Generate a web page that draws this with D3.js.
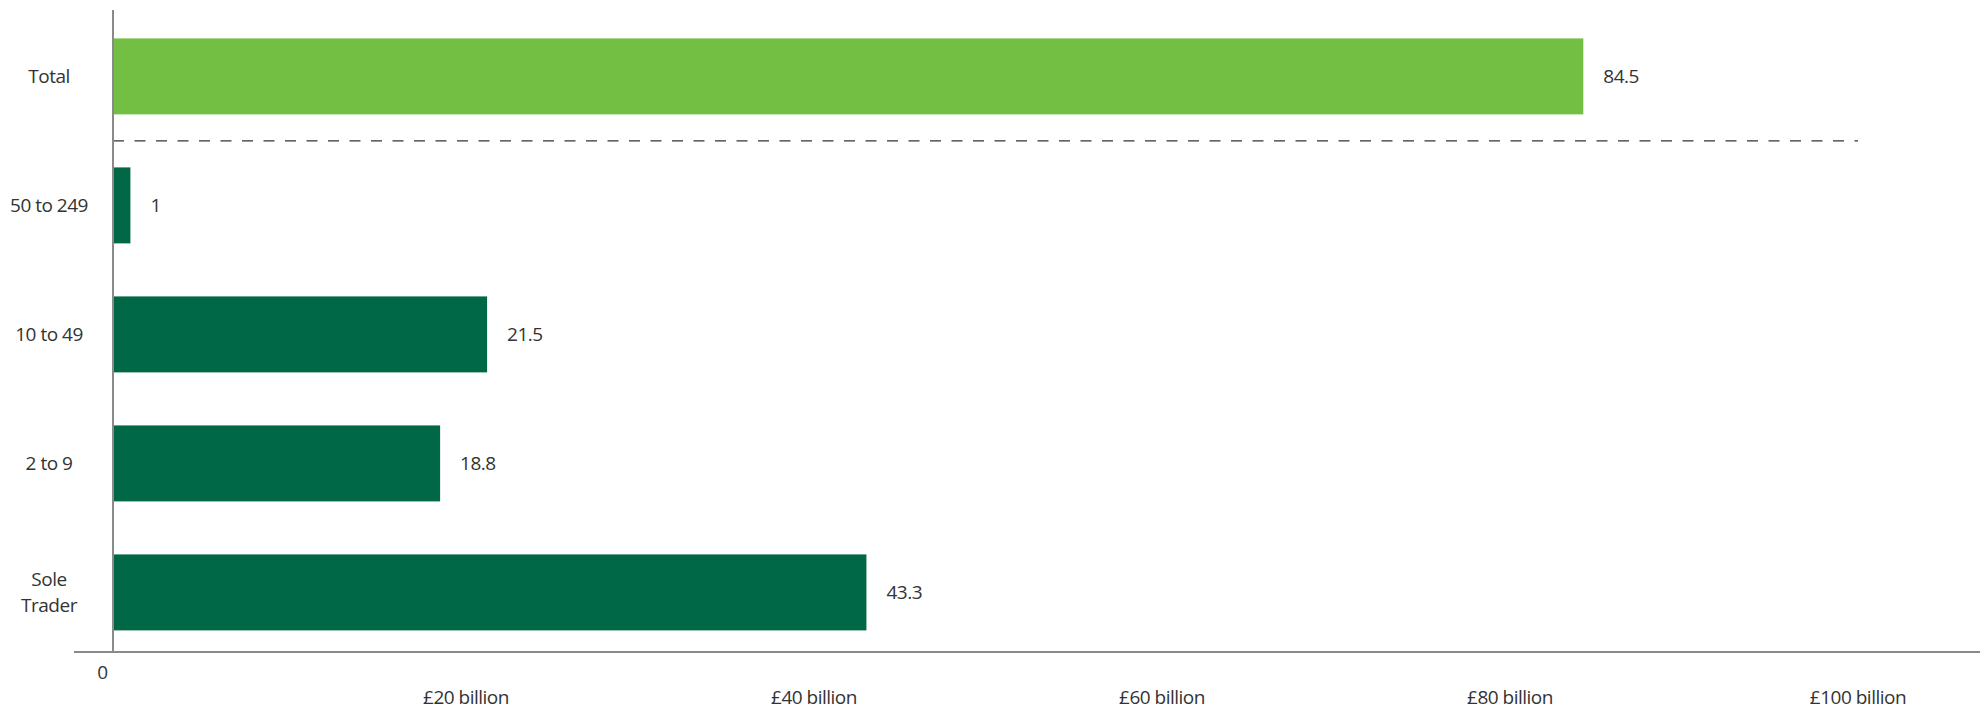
<!DOCTYPE html>
<html>
<head>
<meta charset="utf-8">
<script src="https://cdn.jsdelivr.net/npm/d3@7"></script>
<style>
  html, body { margin: 0; padding: 0; background: #fff; }
  text { font-family: "Open Sans", sans-serif; fill: #333; }
</style>
</head>
<body>
<svg id="chart" width="1988" height="711"></svg>
<script>
const categories = ["Total", "50 to 249", "10 to 49", "2 to 9", "Sole Trader"];
const values = [84.5, 1, 21.5, 18.8, 43.3];
const valueLabels = ["84.5", "1", "21.5", "18.8", "43.3"];
const tickValues = [20, 40, 60, 80, 100];
const tickLabels = ["£20 billion", "£40 billion", "£60 billion", "£80 billion", "£100 billion"];

const svg = d3.select("#chart");
const x = d3.scaleLinear().domain([0, 100]).range([113, 1853]);
const y = d3.scaleBand().domain(categories).range([12.6, 656.2]).paddingInner(0.411).paddingOuter(0.2);

const colors = {"Total": "#72bf44"};
const defaultColor = "#006747";

// bars
svg.append("g").selectAll("rect").data(categories).join("rect")
  .attr("x", x(0))
  .attr("y", d => y(d))
  .attr("width", (d, i) => x(values[i]) - x(0))
  .attr("height", y.bandwidth())
  .attr("fill", d => colors[d] || defaultColor);

// value labels
svg.append("g").selectAll("text").data(categories).join("text")
  .attr("x", (d, i) => x(values[i]) + 20)
  .attr("y", d => y(d) + y.bandwidth() / 2)
  .attr("dy", "0.35em")
  .style("font-size", "19px")
  .style("letter-spacing", "-0.5px")
  .text((d, i) => valueLabels[i]);

// category labels
const catG = svg.append("g");
categories.forEach(c => {
  const words = c === "Sole Trader" ? ["Sole", "Trader"] : [c];
  const cy = y(c) + y.bandwidth() / 2;
  const lh = 26;
  const t = catG.append("text")
    .attr("x", 49)
    .attr("text-anchor", "middle")
    .style("font-size", "19px")
    .style("letter-spacing", "-0.5px");
  words.forEach((w, i) => {
    t.append("tspan")
      .attr("x", 49)
      .attr("y", cy + (i - (words.length - 1) / 2) * lh)
      .attr("dy", "0.35em")
      .text(w);
  });
});

// dashed separator
const sepY = (y("Total") + y.bandwidth() + y("50 to 249")) / 2;
svg.append("line")
  .attr("x1", x(0)).attr("x2", x(100) + 5)
  .attr("y1", sepY).attr("y2", sepY)
  .attr("stroke", "#333").attr("stroke-width", 1.2)
  .attr("stroke-dasharray", "11,10.5");

// axes lines
const baseY = 652;
svg.append("line")
  .attr("x1", x(0)).attr("x2", x(0))
  .attr("y1", 10).attr("y2", baseY)
  .attr("stroke", "#8a8a8a").attr("stroke-width", 2);
svg.append("line")
  .attr("x1", 74).attr("x2", 1980)
  .attr("y1", baseY).attr("y2", baseY)
  .attr("stroke", "#8a8a8a").attr("stroke-width", 2);

// x tick labels
svg.append("g").selectAll("text").data(tickValues).join("text")
  .attr("x", d => x(d) + 5)
  .attr("y", 697)
  .attr("dy", "0.35em")
  .attr("text-anchor", "middle")
  .style("font-size", "19px")
  .style("letter-spacing", "-0.5px")
  .text((d, i) => tickLabels[i]);

svg.append("text")
  .attr("x", x(0) - 5)
  .attr("y", 672)
  .attr("dy", "0.35em")
  .attr("text-anchor", "end")
  .style("font-size", "19px")
  .text("0");
</script>
</body>
</html>
